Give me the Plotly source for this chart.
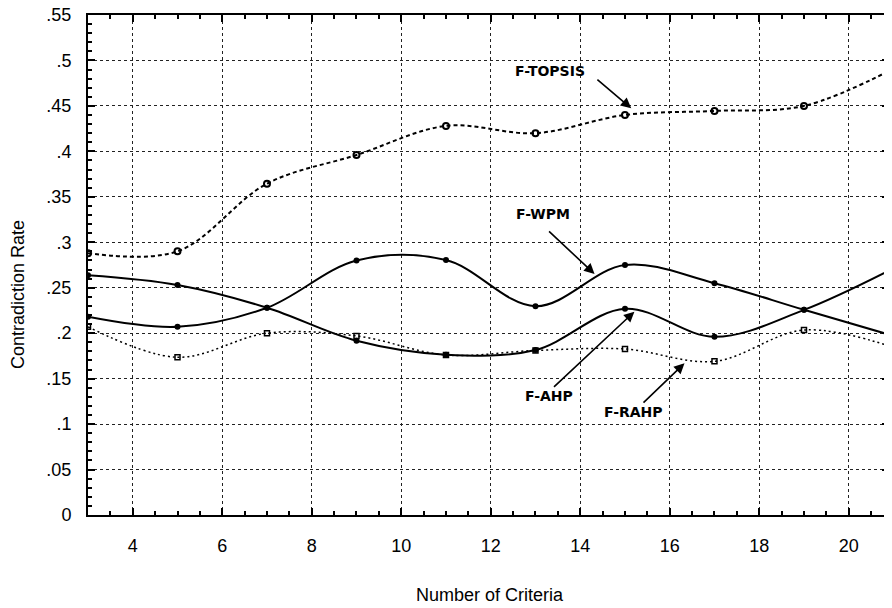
import plotly.graph_objects as go

criteria = [3, 5, 7, 9, 11, 13, 15, 17, 19, 21]
f_topsis = [0.288, 0.290, 0.3645, 0.396, 0.428, 0.420, 0.440, 0.4445, 0.450, 0.491]
f_wpm = [0.218, 0.207, 0.228, 0.280, 0.2805, 0.2297, 0.275, 0.255, 0.2257, 0.197]
f_ahp = [0.2637, 0.253, 0.228, 0.1917, 0.1764, 0.1815, 0.2268, 0.196, 0.2257, 0.2714]
f_rahp = [0.207, 0.1735, 0.200, 0.197, 0.176, 0.181, 0.1826, 0.169, 0.2035, 0.1845]

y_ticks = [0, 0.05, 0.1, 0.15, 0.2, 0.25, 0.3, 0.35, 0.4, 0.45, 0.5, 0.55]
y_tick_text = ["0", ".05", ".1", ".15", ".2", ".25", ".3", ".35", ".4", ".45", ".5", ".55"]
x_ticks = [4, 6, 8, 10, 12, 14, 16, 18, 20]

# page body has an 8px margin, so the figure is drawn 8px down/right
OFF = 8
W, H = 892 - OFF, 608 - OFF
ML, MR, MT, MB = 88 - OFF, 3, 15 - OFF, 93
PW, PH = W - ML - MR, H - MT - MB

fig = go.Figure()

fig.add_trace(go.Scatter(x=criteria, y=f_topsis, mode="lines+markers", name="F-TOPSIS",
                         line=dict(color="black", width=2, shape="spline", dash="4px,3px"),
                         marker=dict(symbol="circle-open", size=6, color="black", line=dict(width=2))))
fig.add_trace(go.Scatter(x=criteria, y=f_wpm, mode="lines+markers", name="F-WPM",
                         line=dict(color="black", width=2, shape="spline"),
                         marker=dict(symbol="circle", size=6, color="black")))
fig.add_trace(go.Scatter(x=criteria, y=f_ahp, mode="lines+markers", name="F-AHP",
                         line=dict(color="black", width=2, shape="spline"),
                         marker=dict(symbol="circle", size=6, color="black")))
fig.add_trace(go.Scatter(x=criteria, y=f_rahp, mode="lines+markers", name="F-RAHP",
                         line=dict(color="black", width=1.5, shape="spline", dash="2px,3px"),
                         marker=dict(symbol="square-open", size=5, color="black", line=dict(width=1.5))))

lab_font = dict(family="DejaVu Sans", size=14, color="black")
labels = [
    ("<b>F-TOPSIS</b>", 13.33, 0.4884, 14.35, 0.4804, 15.14, 0.4474),
    ("<b>F-WPM</b>", 13.17, 0.3311, 13.27, 0.3135, 14.32, 0.2651),
    ("<b>F-AHP</b>", 13.31, 0.1309, 13.38, 0.1394, 15.21, 0.2237),
    ("<b>F-RAHP</b>", 15.19, 0.1133, 15.38, 0.1221, 16.33, 0.1669),
]
for txt, tx, ty, ax_, ay_, hx, hy in labels:
    fig.add_annotation(x=tx, y=ty, text=txt, showarrow=False, font=lab_font,
                       xref="x", yref="y")
    fig.add_annotation(x=hx, y=hy, ax=ax_, ay=ay_, xref="x", yref="y", axref="x", ayref="y",
                       text="", showarrow=True, arrowhead=2, arrowsize=1.3, arrowwidth=1.6,
                       arrowcolor="black")

title_font = dict(family="Liberation Sans", size=18, color="black")
fig.add_annotation(x=(18 - OFF - ML) / PW, y=(H - MB - (295 - OFF)) / PH, xref="paper", yref="paper",
                   text="Contradiction Rate", showarrow=False, textangle=-90,
                   xanchor="center", yanchor="middle", font=title_font)
fig.add_annotation(x=(490 - OFF - ML) / PW, y=(H - MB - (595 - OFF)) / PH, xref="paper", yref="paper",
                   text="Number of Criteria", showarrow=False,
                   xanchor="center", yanchor="middle", font=title_font)

axis_common = dict(showline=True, linecolor="black", linewidth=2, mirror="ticks",
                   ticks="inside", ticklen=7, tickwidth=1.5, tickcolor="black",
                   showgrid=True, gridcolor="#222", griddash="dot", gridwidth=1,
                   zeroline=False, automargin=False, ticklabeloverflow="allow",
                   tickfont=dict(family="Liberation Sans", size=18, color="black"))

fig.update_xaxes(range=[3, 20.9], tickvals=x_ticks,
                 minor=dict(dtick=0.5, tick0=3, ticks="inside", ticklen=4, tickcolor="black", showgrid=False),
                 ticklabelstandoff=13, **axis_common)
fig.update_yaxes(range=[0, 0.55], tickvals=y_ticks, ticktext=y_tick_text,
                 minor=dict(dtick=0.01, tick0=0, ticks="inside", ticklen=4, tickcolor="black", showgrid=False),
                 ticklabelstandoff=11, **axis_common)

fig.update_layout(width=W, height=H, showlegend=False,
                  plot_bgcolor="white", paper_bgcolor="white",
                  margin=dict(l=ML, r=MR, t=MT, b=MB))

fig.write_html("out.html")
